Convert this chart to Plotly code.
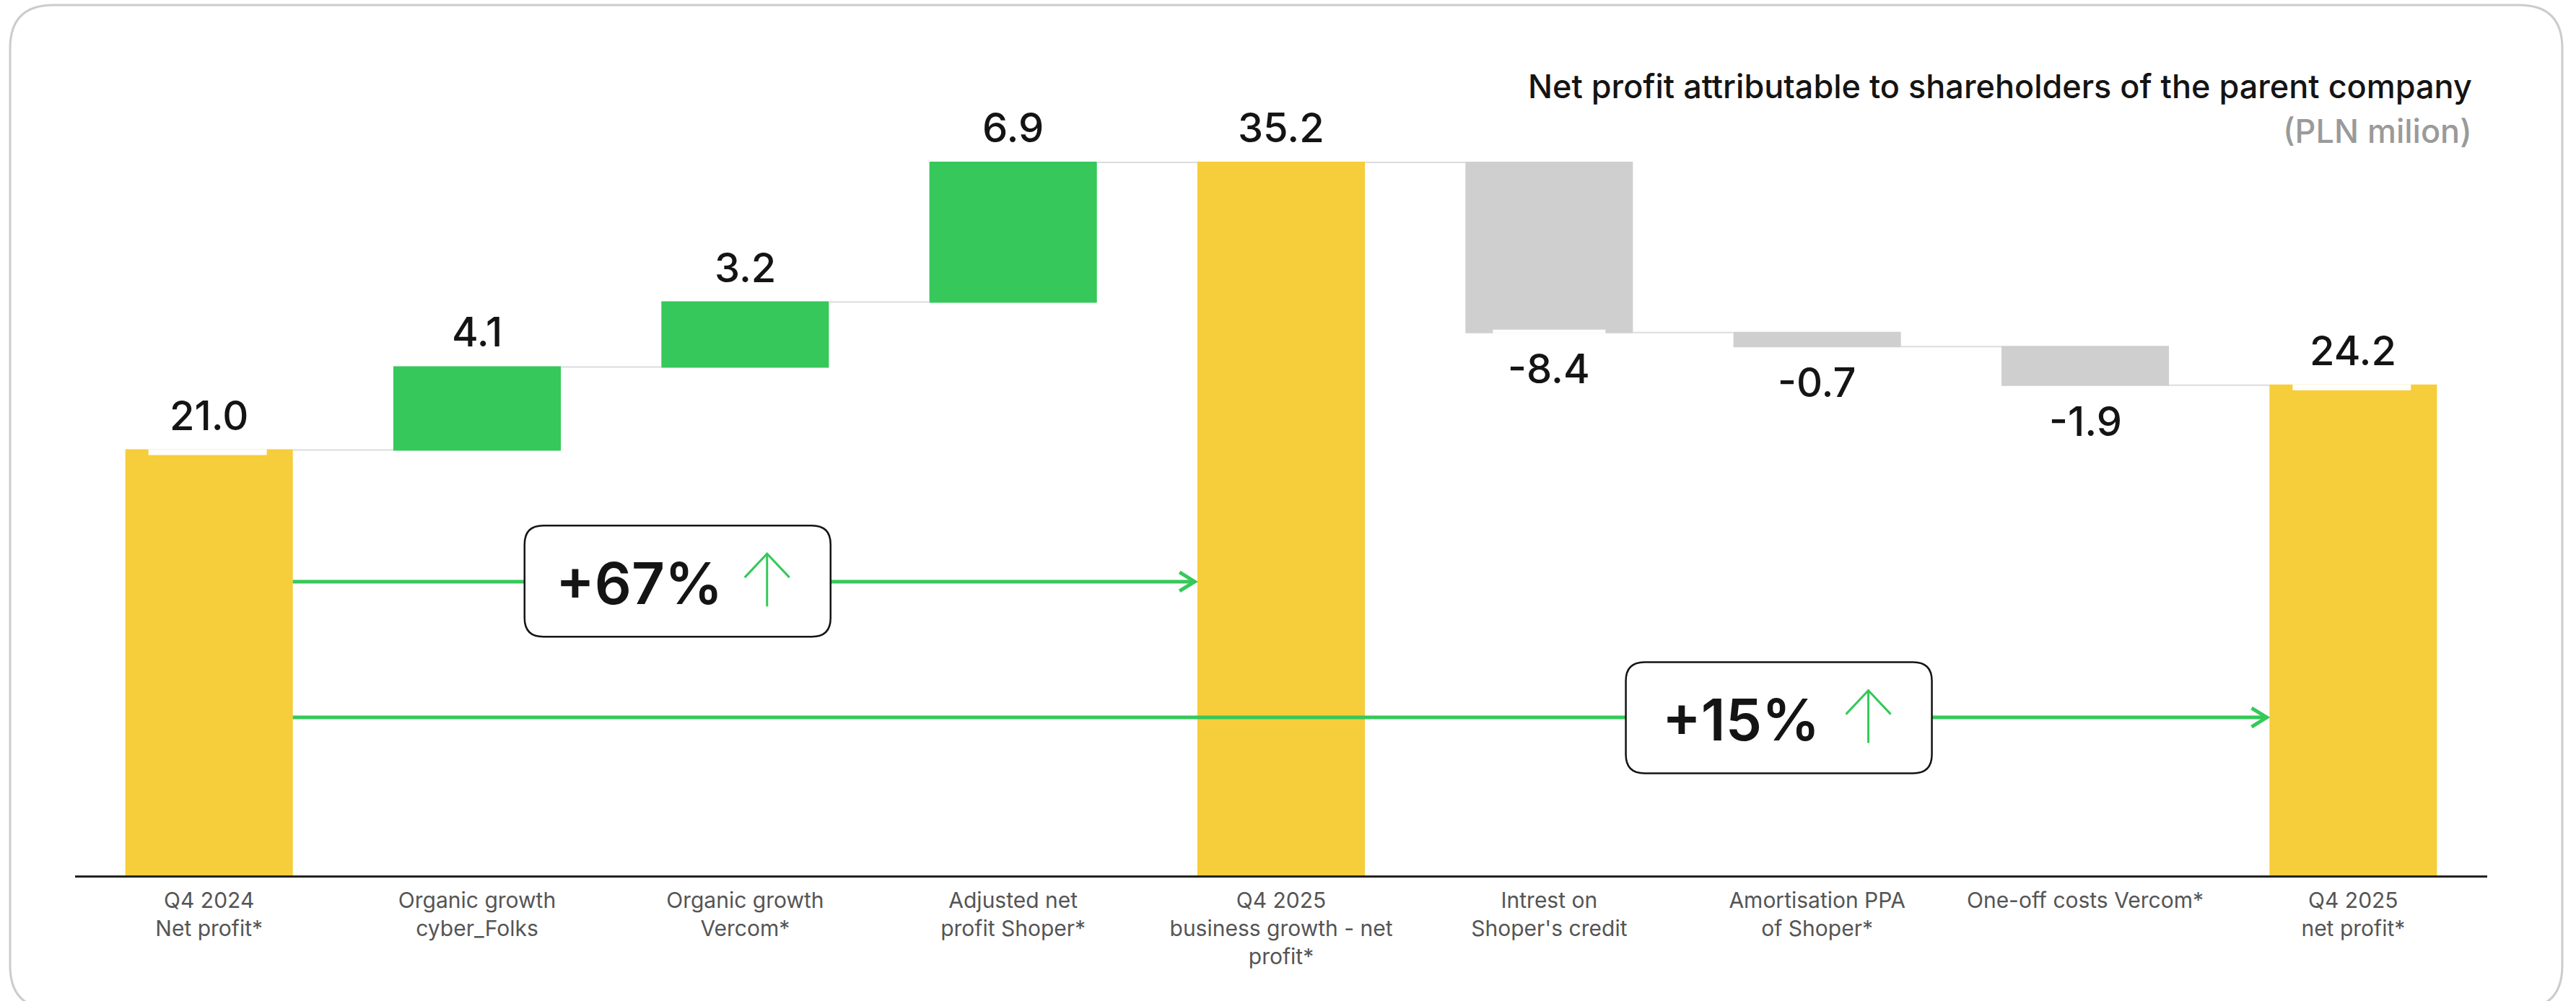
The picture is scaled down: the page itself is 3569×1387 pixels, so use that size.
import plotly.graph_objects as go

# ---------------- data ----------------
categories = [
    "Q4 2024<br>Net profit*",
    "Organic growth<br>cyber_Folks",
    "Organic growth<br>Vercom*",
    "Adjusted net<br>profit Shoper*",
    "Q4 2025<br>business growth - net<br>profit*",
    "Intrest on<br>Shoper's credit",
    "Amortisation PPA<br>of Shoper*",
    "One-off costs Vercom*",
    "Q4 2025<br>net profit*",
]
values = [21.0, 4.1, 3.2, 6.9, 35.2, -8.4, -0.7, -1.9, 24.2]
measures = ["absolute", "relative", "relative", "relative", "total",
            "relative", "relative", "relative", "total"]
change_labels = ["+67%", "+15%"]
title_text = "Net profit attributable to shareholders of the parent company"
unit_text = "(PLN milion)"

# ---------------- layout constants ----------------
W, H = 3569, 1387
ML, MR, MT, MB = 104, 123, 100, 174
PW, PH = W - ML - MR, H - MT - MB
YMAX = 39.65
BARW = 0.625

GREEN = "#36C85A"
YELLOW = "#F6CD3A"
GREY = "#CFCFCF"
FONT = "Inter"


def pxx(px):
    return (px - ML) / PW


def pxy(py):
    return (MT + PH - py) / PH


fig = go.Figure(go.Waterfall(
    x=categories, y=values, measure=measures,
    increasing=dict(marker=dict(color=GREEN)),
    decreasing=dict(marker=dict(color=GREY)),
    totals=dict(marker=dict(color=YELLOW)),
    connector=dict(mode="between", line=dict(color="#DCDCDC", width=2)),
    textposition="none", hoverinfo="skip", showlegend=False,
))

# bar ends computed from the data
starts, ends = [], []
cum = 0.0
for v, m in zip(values, measures):
    if m == "absolute":
        s, e = 0.0, v
        cum = v
    elif m == "relative":
        s, e = cum, cum + v
        cum += v
    else:
        s, e = 0.0, cum
    starts.append(s)
    ends.append(e)

annotations = []
shapes = []

# value labels
for i, (v, s, e) in enumerate(zip(values, starts, ends)):
    up = e >= s
    annotations.append(dict(
        x=categories[i], y=e, xref="x", yref="y",
        text=f"{v:.1f}", showarrow=False,
        yanchor="middle", xanchor="center",
        yshift=48 if up else -50,
        font=dict(family=FONT, size=56, color="#141414", weight=500),
    ))

# small white notches under some labels (as in reference)
for i in (0, 8):
    shapes.append(dict(type="rect", xref="x", yref="y", xsizemode="pixel", ysizemode="pixel",
                       xanchor=i, yanchor=ends[i], x0=-84, x1=80, y0=1, y1=-7,
                       fillcolor="white", line=dict(width=0), layer="above"))
shapes.append(dict(type="rect", xref="x", yref="y", xsizemode="pixel", ysizemode="pixel",
                   xanchor=5, yanchor=ends[5], x0=-78, x1=78, y0=-1, y1=4,
                   fillcolor="white", line=dict(width=0), layer="above"))


def rrect(w, h, r, cx=0, cy=0):
    x0, x1, y0, y1 = cx - w / 2, cx + w / 2, cy - h / 2, cy + h / 2
    return (f"M {x0 + r},{y0} L {x1 - r},{y0} Q {x1},{y0} {x1},{y0 + r} "
            f"L {x1},{y1 - r} Q {x1},{y1} {x1 - r},{y1} L {x0 + r},{y1} "
            f"Q {x0},{y1} {x0},{y1 - r} L {x0},{y0 + r} Q {x0},{y0} {x0 + r},{y0} Z")


# growth arrows: (from bar index, to bar index, line y, box centre x, box centre y, label)
arrows = [
    (0, 4, 14.5, 1.748, 14.53, change_labels[0]),
    (0, 8, 7.8, 5.857, 7.78, change_labels[1]),
]
for a, b, ly, bx, by, lab in arrows:
    x_start = a + BARW / 2
    x_end = b - BARW / 2
    shapes.append(dict(type="line", xref="x", yref="y", x0=x_start, x1=x_end - 0.01, y0=ly, y1=ly,
                       line=dict(color=GREEN, width=5), layer="above"))
    shapes.append(dict(type="path", xref="x", yref="y", xsizemode="pixel", ysizemode="pixel",
                       xanchor=x_end - 0.01, yanchor=ly, path="M -21,13 L 0,0 L -21,-13",
                       line=dict(color=GREEN, width=5), layer="above"))
    shapes.append(dict(type="path", xref="x", yref="y", xsizemode="pixel", ysizemode="pixel",
                       xanchor=bx, yanchor=by, path=rrect(424, 154, 26),
                       fillcolor="white", line=dict(color="#141414", width=2.5), layer="above"))
    shapes.append(dict(type="path", xref="x", yref="y", xsizemode="pixel", ysizemode="pixel",
                       xanchor=bx, yanchor=by,
                       path="M 124,-35 L 124,38 M 93,5 L 124,38 L 155,5",
                       line=dict(color=GREEN, width=3), layer="above"))
    annotations.append(dict(x=bx, y=by, xref="x", yref="y", text=lab, showarrow=False,
                            xanchor="center", yanchor="middle", xshift=-53, yshift=-2,
                            font=dict(family=FONT, size=80, color="#141414", weight=600)))

# outer rounded frame (paper coords)
fx0, fx1, fy0, fy1 = pxx(14), pxx(3550), pxy(1398), pxy(7)
rx, ry = 60 / PW, 60 / PH
frame = (f"M {fx0 + rx},{fy1} L {fx1 - rx},{fy1} Q {fx1},{fy1} {fx1},{fy1 - ry} "
         f"L {fx1},{fy0 + ry} Q {fx1},{fy0} {fx1 - rx},{fy0} L {fx0 + rx},{fy0} "
         f"Q {fx0},{fy0} {fx0},{fy0 + ry} L {fx0},{fy1 - ry} Q {fx0},{fy1} {fx0 + rx},{fy1} Z")
shapes.append(dict(type="path", xref="paper", yref="paper", path=frame,
                   line=dict(color="#CCCCCC", width=3), layer="below"))

# title and unit
annotations.append(dict(xref="paper", yref="paper", x=pxx(3427), y=pxy(120), text=title_text,
                        showarrow=False, xanchor="right", yanchor="middle",
                        font=dict(family=FONT, size=45, color="#141414", weight=500)))
annotations.append(dict(xref="paper", yref="paper", x=pxx(3427), y=pxy(181), text=unit_text,
                        showarrow=False, xanchor="right", yanchor="middle",
                        font=dict(family=FONT, size=45, color="#9A9A9A", weight=500)))

fig.update_layout(
    width=W, height=H, autosize=False,
    margin=dict(l=ML, r=MR, t=MT, b=MB, pad=0),
    paper_bgcolor="white", plot_bgcolor="white",
    waterfallgap=1 - BARW,
    showlegend=False,
    annotations=annotations, shapes=shapes,
    xaxis=dict(type="category", range=[-0.5, len(categories) - 0.5], showgrid=False, zeroline=False,
               showline=True, linecolor="#222222", linewidth=3, ticks="",
               tickfont=dict(family=FONT, size=30, color="#555555"), ticklabelstandoff=6,
               fixedrange=True),
    yaxis=dict(range=[0, YMAX], visible=False, showgrid=False, zeroline=False, fixedrange=True),
    hovermode=False,
)

fig.write_html("out.html", config=dict(displayModeBar=False, staticPlot=True),
               post_script="document.body.style.margin='0';document.body.style.overflow='hidden';")
